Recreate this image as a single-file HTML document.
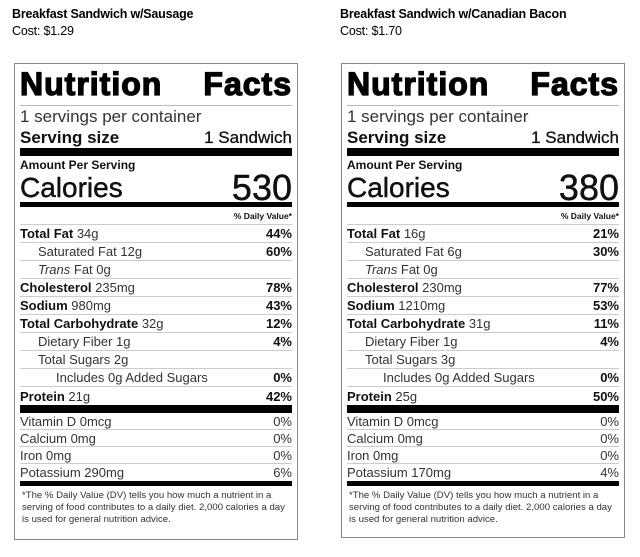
<!DOCTYPE html>
<html><head><meta charset="utf-8"><style>
*{margin:0;padding:0;box-sizing:border-box}
body{width:640px;height:557px;background:#fff;position:relative;overflow:hidden;font-family:"Liberation Sans",Arial,sans-serif;color:#111}
.hd{position:absolute;font-family:"Liberation Sans",sans-serif;font-size:12.5px;line-height:17px;color:#000;letter-spacing:-0.2px}
.hd b{font-weight:bold}
.box{position:absolute;top:63px;width:284px;height:477px;border:1.5px solid #888;padding:0 5px}
.t{height:42px;display:flex;justify-content:space-between;align-items:flex-end;font-weight:bold;font-size:32px;letter-spacing:1px;line-height:36px;border-bottom:1px solid #bbb;padding-bottom:3px;-webkit-text-stroke:1.3px #000;color:#000}
.r{display:flex;justify-content:space-between;align-items:center}
.spc{height:21px;font-size:17px;color:#333}
.ss{height:21px;font-size:17px;font-weight:bold}
.ss span:last-child{font-weight:normal;color:#111;-webkit-text-stroke:0.3px #111}
.bar8{height:8px;background:#000}
.bar5{height:5px;background:#000}
.aps{height:17px;font-size:12px;font-weight:bold;line-height:19px}
.cal{height:29px;font-size:28px;line-height:29px;-webkit-text-stroke:0.4px #000}
.cal span:last-child{font-size:36px}
.dv{height:18px;font-size:8.5px;font-weight:bold;justify-content:flex-end;border-bottom:1px solid #ccc}
.n{height:18px;font-size:13px;border-bottom:1px solid #ccc;color:#333}
.n b{color:#111}
.n span:last-child{font-weight:bold;color:#111}
.i1{padding-left:18px}.i2{padding-left:36px}
.v{height:17px;font-size:13px;border-bottom:1px solid #ccc;color:#333}
.fn{font-size:9.6px;line-height:12px;color:#333;padding:4px 6px 0 2px}
</style></head><body>
<div class="hd" style="left:12px;top:6px"><b>Breakfast Sandwich w/Sausage</b><br>Cost: $1.29</div>
<div class="hd" style="left:340px;top:6px"><b>Breakfast Sandwich w/Canadian Bacon</b><br>Cost: $1.70</div>

<div class="box" style="left:14px">
<div class="t"><span>Nutrition</span><span>Facts</span></div>
<div class="r spc"><span>1 servings per container</span></div>
<div class="r ss"><span>Serving size</span><span>1 Sandwich</span></div>
<div class="bar8"></div>
<div class="aps">Amount Per Serving</div>
<div class="r cal"><span>Calories</span><span>530</span></div>
<div class="bar5"></div>
<div class="r dv"><span>% Daily Value*</span></div>
<div class="r n"><span><b>Total Fat</b> 34g</span><span>44%</span></div>
<div class="r n i1"><span>Saturated Fat 12g</span><span>60%</span></div>
<div class="r n i1"><span><i>Trans</i> Fat 0g</span><span></span></div>
<div class="r n"><span><b>Cholesterol</b> 235mg</span><span>78%</span></div>
<div class="r n"><span><b>Sodium</b> 980mg</span><span>43%</span></div>
<div class="r n"><span><b>Total Carbohydrate</b> 32g</span><span>12%</span></div>
<div class="r n i1"><span>Dietary Fiber 1g</span><span>4%</span></div>
<div class="r n i1"><span>Total Sugars 2g</span><span></span></div>
<div class="r n i2"><span>Includes 0g Added Sugars</span><span>0%</span></div>
<div class="r n" style="border:0"><span><b>Protein</b> 21g</span><span>42%</span></div>
<div class="bar8"></div>
<div class="r v"><span>Vitamin D 0mcg</span><span>0%</span></div>
<div class="r v"><span>Calcium 0mg</span><span>0%</span></div>
<div class="r v"><span>Iron 0mg</span><span>0%</span></div>
<div class="r v" style="border:0"><span>Potassium 290mg</span><span>6%</span></div>
<div class="bar5"></div>
<div class="fn">*The % Daily Value (DV) tells you how much a nutrient in a serving of food contributes to a daily diet. 2,000 calories a day is used for general nutrition advice.</div>
</div>

<div class="box" style="left:341px;height:475px">
<div class="t"><span>Nutrition</span><span>Facts</span></div>
<div class="r spc"><span>1 servings per container</span></div>
<div class="r ss"><span>Serving size</span><span>1 Sandwich</span></div>
<div class="bar8"></div>
<div class="aps">Amount Per Serving</div>
<div class="r cal"><span>Calories</span><span>380</span></div>
<div class="bar5"></div>
<div class="r dv"><span>% Daily Value*</span></div>
<div class="r n"><span><b>Total Fat</b> 16g</span><span>21%</span></div>
<div class="r n i1"><span>Saturated Fat 6g</span><span>30%</span></div>
<div class="r n i1"><span><i>Trans</i> Fat 0g</span><span></span></div>
<div class="r n"><span><b>Cholesterol</b> 230mg</span><span>77%</span></div>
<div class="r n"><span><b>Sodium</b> 1210mg</span><span>53%</span></div>
<div class="r n"><span><b>Total Carbohydrate</b> 31g</span><span>11%</span></div>
<div class="r n i1"><span>Dietary Fiber 1g</span><span>4%</span></div>
<div class="r n i1"><span>Total Sugars 3g</span><span></span></div>
<div class="r n i2"><span>Includes 0g Added Sugars</span><span>0%</span></div>
<div class="r n" style="border:0"><span><b>Protein</b> 25g</span><span>50%</span></div>
<div class="bar8"></div>
<div class="r v"><span>Vitamin D 0mcg</span><span>0%</span></div>
<div class="r v"><span>Calcium 0mg</span><span>0%</span></div>
<div class="r v"><span>Iron 0mg</span><span>0%</span></div>
<div class="r v" style="border:0"><span>Potassium 170mg</span><span>4%</span></div>
<div class="bar5"></div>
<div class="fn">*The % Daily Value (DV) tells you how much a nutrient in a serving of food contributes to a daily diet. 2,000 calories a day is used for general nutrition advice.</div>
</div>
</body></html>
